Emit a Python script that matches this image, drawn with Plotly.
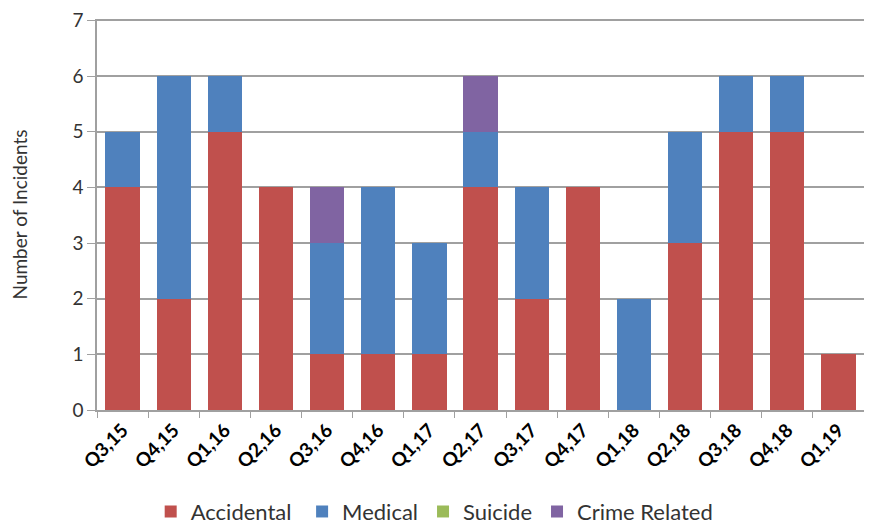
import plotly.graph_objects as go

categories = ["Q3,15", "Q4,15", "Q1,16", "Q2,16", "Q3,16", "Q4,16", "Q1,17", "Q2,17",
              "Q3,17", "Q4,17", "Q1,18", "Q2,18", "Q3,18", "Q4,18", "Q1,19"]
accidental = [4, 2, 5, 4, 1, 1, 1, 4, 2, 4, 0, 3, 5, 5, 1]
medical = [1, 4, 1, 0, 2, 3, 2, 1, 2, 0, 2, 2, 1, 1, 0]
suicide = [0] * 15
crime = [0, 0, 0, 0, 1, 0, 0, 1, 0, 0, 0, 0, 0, 0, 0]

series = [
    ("Accidental", accidental, "#C0504D"),
    ("Medical", medical, "#4F81BD"),
    ("Suicide", suicide, "#9BBB59"),
    ("Crime Related", crime, "#8064A2"),
]
legend_names = ["Accidental ", "Medical", "Suicide", "Crime Related"]

fig = go.Figure()
for (name, vals, color), lname in zip(series, legend_names):
    fig.add_trace(go.Bar(x=categories, y=vals, name=lname,
                         marker=dict(color=color, line=dict(width=0))))

fig.update_layout(
    barmode="stack",
    bargap=0.33,
    width=856, height=518,
    margin=dict(l=89, r=0, t=11, b=116, autoexpand=False),
    paper_bgcolor="white", plot_bgcolor="white",
    font=dict(family="Lato, DejaVu Sans, sans-serif", color="#222222", size=18),
    legend=dict(orientation="h", x=0.07, xanchor="left", y=-0.26, yanchor="middle",
                font=dict(size=22, color="#333333"), traceorder="normal",
                itemwidth=30),
    showlegend=True,
)
fig.update_xaxes(
    type="category", tickangle=-45, tickson="boundaries", ticks="outside",
    ticklen=6, tickcolor="#A0A0A0", showline=True, linecolor="#A0A0A0", linewidth=1.5,
    tickfont=dict(size=19, family="Lato, DejaVu Sans, sans-serif", color="#000000", weight="bold"),
    showgrid=False, automargin=False,
)
fig.update_yaxes(
    range=[0, 7.025], tickvals=[0, 1, 2, 3, 4, 5, 6, 7], showgrid=True, gridcolor="#A0A0A0",
    gridwidth=1.5, showline=True, linecolor="#A0A0A0", linewidth=1.5, ticks="outside", ticklen=8,
    tickcolor="#A0A0A0", zeroline=False, automargin=False, ticklabeloverflow="allow",
    tickfont=dict(size=19, color="#333333"),
    title=dict(text="Number of Incidents", font=dict(size=19, color="#333333"), standoff=42),
)

fig.write_html("out.html")
